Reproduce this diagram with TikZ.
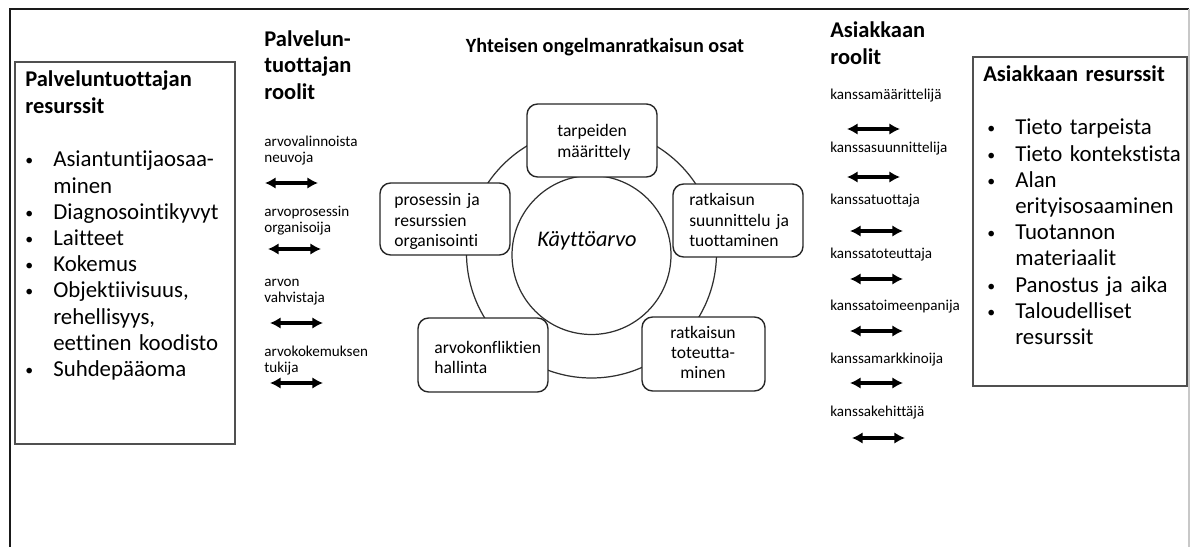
\documentclass[tikz,border=0pt]{standalone}
\usepackage{fontspec}
\setmainfont{Carlito}[Ligatures=NoCommon]
\usetikzlibrary{arrows.meta,positioning}
\definecolor{frameLine}{HTML}{1A1A1A}
\definecolor{boxLine}{HTML}{505050}
\definecolor{ringLine}{HTML}{303030}
\definecolor{edgeLine}{HTML}{C8C8C8}
\newcommand{\bul}{\makebox[15.9pt][l]{\raisebox{0.6pt}{\fontsize{9}{9}\selectfont •}}}
\newcommand{\ind}{\hspace*{15.9pt}}
\tikzset{
    % text styles (sizes, 1 unit = 1 px)
    bodytext/.style={font=\fontsize{13}{14.9}\selectfont, inner sep=0pt, align=left, anchor=base west},
    headtext/.style={font=\bfseries\fontsize{12.8}{14.8}\selectfont, inner sep=0pt, align=left, anchor=base west},
    roletext/.style={font=\fontsize{8.6}{9.1}\selectfont, inner sep=0pt, align=left, anchor=base west},
    parttext/.style={font=\fontsize{10}{11.6}\selectfont, inner sep=0pt, align=left, anchor=base west},
    % boxes and connectors
    resbox/.style={draw=boxLine, line width=1.1pt, fill=white, inner sep=0pt},
    partbox/.style={draw=black!85, line width=0.8pt, fill=white, rounded corners=6pt, inner sep=0pt},
    ring/.style={draw=ringLine, line width=0.7pt},
    rolearrow/.style={{Latex[length=6pt,width=6.5pt]}-{Latex[length=6pt,width=6.5pt]}, line width=1.8pt, black}
}

\begin{document}
\begin{tikzpicture}[x=0.02cm, y=-0.02cm]
    \useasboundingbox (0,0) rectangle (1190,547);
    % outer frame (cut at the bottom)
    \draw[frameLine, line width=1.3pt] (10,547) -- (10,9) -- (1189,9);
    \draw[edgeLine, line width=0.6pt] (1189,9) -- (1189,547);

    % Left: resources of the service provider
    \node[resbox, minimum width=4.4cm, minimum height=7.64cm] (lres) at (125,253) {};
    \node[headtext, text width=4.2cm] (lresT) at (25,87) {Palveluntuottajan\\resurssit};
    \node[bodytext, text width=4.2cm] (lresL) at (25,167)
        {\bul Asiantuntijaosaa-\\\ind minen\\\bul Diagnosointikyvyt\\\bul Laitteet\\\bul Kokemus\\
         \bul Objektiivisuus,\\\ind rehellisyys,\\\ind eettinen koodisto\\\bul Suhdepääoma};

    % Left roles
    \node[headtext, text width=2cm] (lrolT) at (264,47) {Palvelun-\\tuottajan\\roolit};
    \foreach \i/\y/\txt in {1/147/{arvovalinnoista\\neuvoja}, 2/217/{arvoprosessin\\organisoija},
                            3/287/{arvon\\vahvistaja}, 4/357/{arvokokemuksen\\tukija}}
        \node[roletext, text width=2.4cm] (lrol\i) at (264,\y) {\txt};
    \foreach \i/\x/\y in {1/265/183, 2/268/249, 3/270/323, 4/270/383} {
        \coordinate (la\i) at (\x,\y);
        \coordinate (lb\i) at (\x+53,\y);
        \draw[rolearrow] (la\i) -- (lb\i);
    }

    % Centre: parts of joint problem solving
    \node[font=\bfseries\fontsize{11.5}{13}\selectfont, inner sep=0pt, anchor=base] (partsT) at (605,53)
        {Yhteisen ongelmanratkaisun osat};
    \coordinate (mid) at (591.5,253);
    \draw[ring] (mid) circle[radius=125];
    \node[ring, circle, minimum size=3.18cm, inner sep=0pt] (value) at (591.5,255) {};
    \node[font=\itshape\fontsize{12.7}{14}\selectfont, inner sep=0pt, anchor=base] (valueT) at (587,247) {Käyttöarvo};

    \node[partbox, minimum width=2.6cm, minimum height=1.46cm] (needs) at (592,140.5) {};
    \node[parttext, text width=2.2cm] (needsT) at (557,137) {tarpeiden\\määrittely};

    \node[partbox, minimum width=2.6cm, minimum height=1.46cm] (design) at (738,220.5) {};
    \node[parttext, text width=2.4cm] (designT) at (689,206) {ratkaisun\\suunnittelu ja\\tuottaminen};

    \node[partbox, minimum width=2.46cm, minimum height=1.48cm] (impl) at (703.5,354) {};
    \node[parttext, text width=2.2cm, align=center, anchor=base] (implT) at (703,338) {ratkaisun\\toteutta-\\minen};

    \node[partbox, minimum width=2.6cm, minimum height=1.48cm] (conflict) at (483,355) {};
    \node[parttext, text width=2.4cm] (conflictT) at (434,353) {arvokonfliktien\\hallinta};

    \node[partbox, minimum width=2.6cm, minimum height=1.44cm] (process) at (445,219) {};
    \node[parttext, text width=2.4cm] (processT) at (394,206) {prosessin ja\\resurssien\\organisointi};

    % Right roles
    \node[headtext, text width=2cm] (rrolT) at (830,38) {Asiakkaan\\roolit};
    \foreach \i/\y/\txt in {1/100/kanssamäärittelijä, 2/153/kanssasuunnittelija, 3/205/kanssatuottaja,
                            4/258/kanssatoteuttaja, 5/311/kanssatoimeenpanija, 6/363/kanssamarkkinoija,
                            7/416/kanssakehittäjä}
        \node[roletext] (rrol\i) at (830,\y) {\txt};
    \foreach \i/\x/\y in {1/847/129, 2/847/177, 3/850/231, 4/850/279, 5/850/331, 6/850/383, 7/852/438} {
        \coordinate (ra\i) at (\x,\y);
        \coordinate (rb\i) at (\x+53,\y);
        \draw[rolearrow] (ra\i) -- (rb\i);
    }

    % Right: resources of the customer
    \node[resbox, minimum width=4.28cm, minimum height=6.58cm] (rres) at (1080,221.5) {};
    \node[headtext, text width=4cm] (rresT) at (983,82) {Asiakkaan resurssit};
    \node[bodytext, text width=4cm] (rresL) at (987,135)
        {\bul Tieto tarpeista\\\bul Tieto kontekstista\\\bul Alan\\\ind erityisosaaminen\\\bul Tuotannon\\
         \ind materiaalit\\\bul Panostus ja aika\\\bul Taloudelliset\\\ind resurssit};
\end{tikzpicture}
\end{document}
